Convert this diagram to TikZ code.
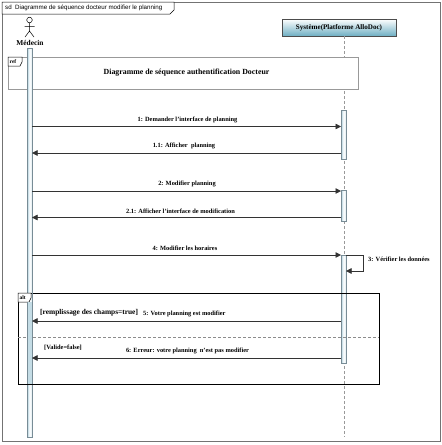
\documentclass[tikz,border=0pt]{standalone}
\usepackage{fontspec}
\setmainfont{Liberation Serif}
\newfontfamily\sdfont{Liberation Sans}
\usetikzlibrary{arrows.meta,calc}
\definecolor{barfill}{RGB}{170,205,218}
\definecolor{barline}{RGB}{120,140,150}
\definecolor{sysbot}{RGB}{110,175,195}
\tikzset{
  msg/.style={draw=black!80, line width=0.5pt, -{Triangle[length=5.5pt,width=5.5pt]}},
  lbl/.style={font=\fontsize{6.4}{7}\selectfont\bfseries, inner sep=0pt},
  guard/.style={font=\fontsize{7.4}{8}\selectfont\bfseries, inner sep=0pt},
  actbar/.style={draw=barline, line width=0.4pt, left color=barfill, right color=barfill!40, middle color=white},
  lifeline/.style={draw=black!40, dashed, dash pattern=on 3pt off 2pt, line width=0.4pt},
  tagbox/.style={draw=black, line width=0.5pt, fill=white},
}
\begin{document}
\begin{tikzpicture}[x=1pt,y=-1pt]
\useasboundingbox (0,0) rectangle (442,445);
% outer frame
\draw[black!55, line width=0.5pt] (2,2) rectangle (440,441);
\draw[tagbox] (2,2) -- (174,2) -- (174,10) -- (170,14) -- (2,14) -- cycle;
\node[anchor=west, inner sep=0pt, font=\sdfont\fontsize{6.2}{7}\selectfont] (sd) at (5,8.2) {sd\ \ Diagramme de séquence docteur modifier le planning};

% actor Médecin
\draw[line width=0.5pt] (29.5,20) circle (2.8);
\draw[line width=0.5pt] (29.5,22.8) -- (29.5,31) (24.5,26.5) -- (34.5,26.5) (25,37) -- (29.5,31) -- (34,37);
\node[font=\fontsize{7.4}{8}\selectfont\bfseries, inner sep=0pt] (medecin) at (30,43) {Médecin};

% Système
\node[draw=black!70, line width=0.5pt, top color=white, bottom color=sysbot, minimum width=114pt, minimum height=17pt, inner sep=0pt, font=\fontsize{7.1}{8}\selectfont\bfseries] (sys) at (339,27.5) {Système(Platforme AlloDoc)};
\coordinate (sysend) at (344,437);
\draw[lifeline] (344,36) -- (sysend);

% ref frame
\draw[black!40, line width=0.5pt, fill=white] (8,57) rectangle (358,89);
\draw[tagbox] (8,57) -- (22,57) -- (22,62) -- (20,66) -- (8,66) -- cycle;
\node[anchor=west, inner sep=0pt, font=\fontsize{5.5}{6}\selectfont\bfseries] (reftag) at (9.5,61.5) {ref};
\node[font=\fontsize{7.85}{9}\selectfont\bfseries, inner sep=0pt] (reftext) at (186.5,73) {Diagramme de séquence authentification Docteur};
% Médecin activation bar
\node[actbar, minimum width=5pt, minimum height=389pt, inner sep=0pt, anchor=north] (medbar) at (29.5,48) {};

% activation bars on Système
\node[actbar, minimum width=5pt, minimum height=49pt, inner sep=0pt, anchor=north] (sb1) at (343.5,110) {};
\node[actbar, minimum width=5pt, minimum height=31pt, inner sep=0pt, anchor=north] (sb2) at (343.5,190) {};
\node[actbar, minimum width=5pt, minimum height=108pt, inner sep=0pt, anchor=north] (sb3) at (343.5,255) {};

% messages
\coordinate (m1a) at (32,126.5); \coordinate (m1b) at (341,126.5);
\draw[msg] (m1a) -- (m1b);
\node[lbl] (l1) at (187.5,119.5) {1: Demander l'interface de planning};

\coordinate (m11a) at (341,153); \coordinate (m11b) at (32,153);
\draw[msg] (m11a) -- (m11b);
\node[lbl] (l11) at (184,146) {1.1: Afficher \ planning};

\coordinate (m2a) at (32,191); \coordinate (m2b) at (341,191);
\draw[msg] (m2a) -- (m2b);
\node[lbl] (l2) at (187,184) {2: Modifier planning};

\coordinate (m21a) at (341,217.5); \coordinate (m21b) at (32,217.5);
\draw[msg] (m21a) -- (m21b);
\node[lbl] (l21) at (180.5,211) {2.1: Afficher l'interface de modification};

\coordinate (m4a) at (32,255); \coordinate (m4b) at (341,255);
\draw[msg] (m4a) -- (m4b);
\node[lbl] (l4) at (185,248) {4: Modifier les horaires};

\coordinate (m3a) at (346,255); \coordinate (m3b) at (346,271);
\draw[msg] (m3a) -- (363,255) -- (363,271) -- (m3b);
\node[lbl, anchor=west] (l3) at (368,259) {3: Vérifier les données};

% alt frame
\draw[black, line width=0.6pt] (18,293) rectangle (379,384);
\draw[black!45, dashed, dash pattern=on 3pt off 2pt, line width=0.4pt] (18,337) -- (379,337);
\draw[tagbox] (18,293) -- (31,293) -- (31,298) -- (29,302) -- (18,302) -- cycle;
\node[anchor=west, inner sep=0pt, font=\fontsize{5.5}{6}\selectfont\bfseries] (alttag) at (19.5,297.5) {alt};
\fill[barfill!70] (27.3,302.3) rectangle (31.7,383.7);
\draw[barline, line width=0.4pt] (27,302.3) -- (27,383.7) (32,293.3) -- (32,383.7);

\node[guard, anchor=west] (g1) at (40,313) {[remplissage des champs=true]};
\node[lbl, anchor=west] (l5) at (143,313.5) {5: Votre planning est modifier};
\coordinate (m5a) at (341,321); \coordinate (m5b) at (32,321);
\draw[msg] (m5a) -- (m5b);

\node[lbl, anchor=west] (g2) at (44,348) {[Valide=false]};
\node[lbl] (l6) at (187.5,351) {6: Erreur: votre planning \ n'est pas modifier};
\coordinate (m6a) at (341,358); \coordinate (m6b) at (32,358);
\draw[msg] (m6a) -- (m6b);
\end{tikzpicture}
\end{document}
